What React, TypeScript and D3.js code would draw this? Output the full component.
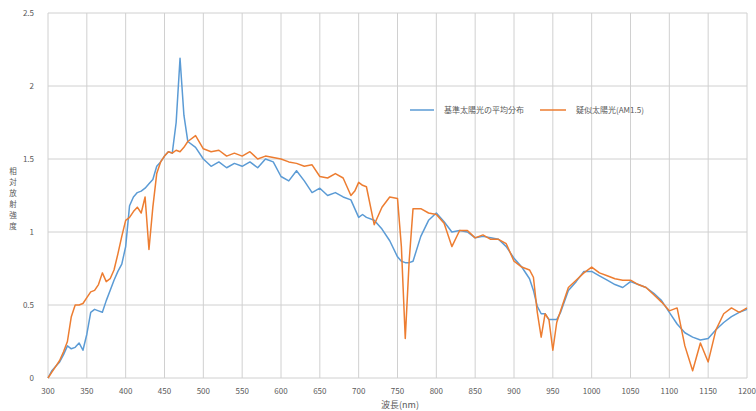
import React from "react";
import * as d3 from "d3";

const wavelengths = [300,305,310,315,320,325,330,335,340,345,350,355,360,365,370,375,380,385,390,395,400,405,410,415,420,425,430,435,440,445,450,455,460,465,470,475,480,490,500,510,520,530,540,550,560,570,580,590,600,610,620,630,640,650,660,670,680,690,695,700,705,710,720,730,740,750,755,760,765,770,780,790,800,810,820,830,840,850,860,870,880,890,900,910,920,925,930,935,940,945,950,955,960,970,980,990,1000,1010,1020,1030,1040,1050,1060,1070,1080,1090,1100,1110,1120,1130,1140,1150,1160,1170,1180,1190,1200];

const measured = [0,0.05,0.08,0.11,0.16,0.22,0.20,0.21,0.24,0.19,0.30,0.45,0.47,0.46,0.45,0.53,0.60,0.67,0.73,0.78,0.90,1.18,1.24,1.27,1.28,1.30,1.33,1.36,1.45,1.48,1.52,1.55,1.54,1.75,2.19,1.80,1.62,1.58,1.50,1.45,1.48,1.44,1.47,1.45,1.48,1.44,1.50,1.48,1.38,1.35,1.42,1.35,1.27,1.30,1.25,1.27,1.24,1.22,1.16,1.10,1.12,1.10,1.08,1.02,0.94,0.83,0.80,0.79,0.79,0.80,0.97,1.08,1.13,1.07,1.00,1.01,1.00,0.96,0.97,0.96,0.95,0.90,0.82,0.76,0.68,0.60,0.49,0.44,0.44,0.40,0.40,0.40,0.45,0.60,0.66,0.73,0.73,0.70,0.67,0.64,0.62,0.66,0.64,0.62,0.58,0.53,0.45,0.37,0.31,0.28,0.26,0.27,0.33,0.38,0.42,0.45,0.47];

const simulator = [0,0.04,0.08,0.12,0.18,0.25,0.42,0.50,0.50,0.51,0.55,0.59,0.60,0.64,0.72,0.66,0.68,0.74,0.85,0.97,1.08,1.10,1.14,1.17,1.13,1.24,0.88,1.17,1.40,1.48,1.52,1.55,1.54,1.56,1.55,1.58,1.62,1.66,1.57,1.55,1.56,1.52,1.54,1.52,1.55,1.50,1.52,1.51,1.50,1.48,1.47,1.45,1.46,1.38,1.37,1.40,1.37,1.25,1.28,1.34,1.32,1.31,1.05,1.17,1.24,1.23,0.90,0.27,0.80,1.16,1.16,1.13,1.12,1.06,0.90,1.01,1.01,0.96,0.98,0.95,0.95,0.92,0.80,0.76,0.74,0.69,0.45,0.28,0.44,0.40,0.19,0.38,0.46,0.62,0.67,0.72,0.76,0.72,0.70,0.68,0.67,0.67,0.64,0.62,0.57,0.52,0.46,0.48,0.22,0.05,0.24,0.11,0.33,0.44,0.48,0.45,0.48];

const xTicks = [300,350,400,450,500,550,600,650,700,750,800,850,900,950,1000,1050,1100,1150,1200];
const yTicks = [0,0.5,1,1.5,2,2.5];
const seriesNames = ["基準太陽光の平均分布", "疑似太陽光(AM1.5)"];
const yTitle = "相対放射強度";
const xTitle = "波長(nm)";

export default function App() {
  const W = 756, H = 411;
  const x = d3.scaleLinear().domain([300, 1200]).range([48, 747]);
  const y = d3.scaleLinear().domain([0, 2.5]).range([378, 13]);
  const line = (vals: number[]) =>
    d3.line<number>().x((_, i) => x(wavelengths[i])).y((v) => y(v))(vals) || "";
  const grid = "#d0d0d0";
  const txt = "#595959";
  const font = "'Noto Sans CJK JP', 'Noto Sans', sans-serif";
  return (
    <svg width={W} height={H} style={{ position: "absolute", left: 0, top: 0, background: "#fff" }} fontFamily={font}>
      {yTicks.map((t) => (
        <line key={"gy" + t} x1={x(300)} x2={x(1200)} y1={y(t)} y2={y(t)} stroke={grid} strokeWidth={1} />
      ))}
      {xTicks.map((t) => (
        <line key={"gx" + t} x1={x(t)} x2={x(t)} y1={y(0)} y2={y(2.5)} stroke={grid} strokeWidth={1} />
      ))}
      {yTicks.map((t) => (
        <text key={"ty" + t} x={34} y={y(t) + 3} textAnchor="end" fontSize={8} fill={txt}>{String(t)}</text>
      ))}
      {xTicks.map((t) => (
        <text key={"tx" + t} x={x(t)} y={394} textAnchor="middle" fontSize={8} fill={txt}>{String(t)}</text>
      ))}
      <text x={400} y={408} textAnchor="middle" fontSize={9} fill={txt}>{xTitle}</text>
      {yTitle.split("").map((c, i) => (
        <text key={"yt" + i} x={13} y={174 + i * 11} textAnchor="middle" fontSize={7.5} fill={txt}>{c}</text>
      ))}
      <path d={line(measured)} fill="none" stroke="#5B9BD5" strokeWidth={1.5} strokeLinejoin="round" />
      <path d={line(simulator)} fill="none" stroke="#ED7D31" strokeWidth={1.5} strokeLinejoin="round" />
      <line x1={410} x2={434} y1={110} y2={110} stroke="#5B9BD5" strokeWidth={1.5} />
      <text x={444} y={113} fontSize={8} fill={txt}>{seriesNames[0]}</text>
      <line x1={540} x2={566} y1={110} y2={110} stroke="#ED7D31" strokeWidth={1.5} />
      <text x={576} y={113} fontSize={8} fill={txt}>{seriesNames[1]}</text>
    </svg>
  );
}
